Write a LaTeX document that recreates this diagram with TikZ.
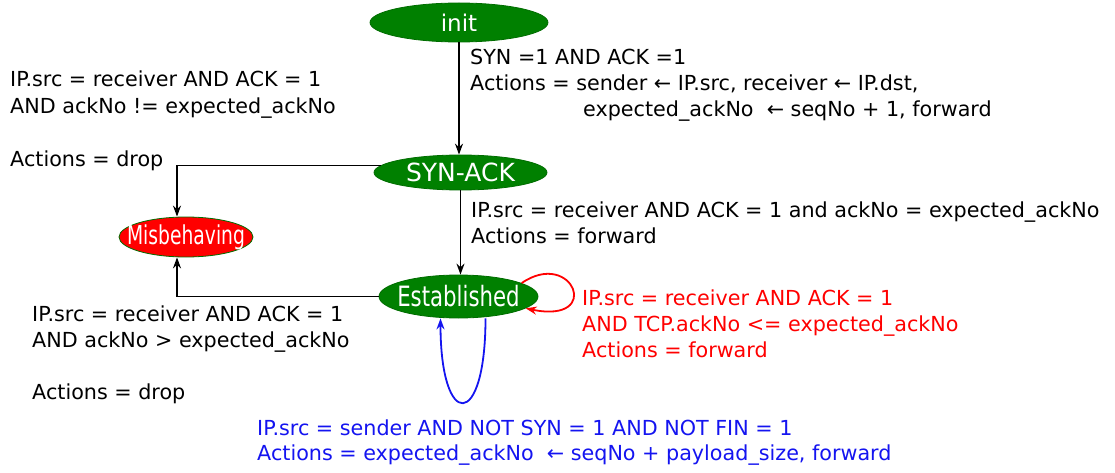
\documentclass[tikz,border=0pt]{standalone}
\usepackage{fontspec}
\usepackage{graphicx}
\setmainfont{DejaVu Sans}
\usetikzlibrary{shapes.geometric,arrows.meta}
\definecolor{stgreen}{RGB}{0,128,0}
\definecolor{stred}{RGB}{255,0,0}
\definecolor{stblue}{RGB}{20,20,240}
\begin{document}
\begin{tikzpicture}[x=1pt,y=1pt,
  state/.style={ellipse,fill=stgreen,draw=stgreen!85!black,line width=0.8pt,inner sep=0pt,text=white},
  lbl/.style={anchor=base west,inner sep=0pt,font=\fontsize{20.7}{26}\selectfont},
  conn/.style={-{Stealth[length=11pt,width=8pt]},line width=1.5pt},
]
\useasboundingbox (0,0) rectangle (1115,-473);
\node[state,minimum width=178pt,minimum height=39pt,font=\fontsize{23}{23}\selectfont] (init) at (459,-22.5) {\makebox[0pt]{init}};
\node[state,minimum width=173pt,minimum height=35pt,font=\fontsize{25}{25}\selectfont] (synack) at (460.5,-172.5) {\makebox[0pt]{SYN-ACK}};
\node[state,minimum width=159pt,minimum height=43pt,font=\fontsize{28}{28}\selectfont] (est) at (458.5,-296.5) {\makebox[0pt]{\scalebox{0.76}[1]{Established}}};
\node[state,fill=stred,minimum width=134pt,minimum height=40pt,font=\fontsize{26}{26}\selectfont] (misb) at (186,-237) {\makebox[0pt]{\scalebox{0.72}[1]{Misbehaving}}};

\draw[conn] (init.south) -- (init.south |- synack.north);
\draw[conn] (synack.south) -- (synack.south |- est.north);
\draw[conn] (synack.175) -| ([xshift=-9pt]misb.north);
\draw[conn] (est.west) -| ([xshift=-9pt]misb.south);
\draw[conn,stred,line width=1.8pt] (est.12) .. controls +(51,35) and +(78,-16) .. (est.-10);
\draw[conn,stblue,line width=1.8pt] ([xshift=27pt]est.south) .. controls +(0,-112) and +(0,-112) .. ([xshift=-18pt]est.south);

\node[lbl] (t1a) at (10,-87) {IP.src = receiver AND ACK = 1};
\node[lbl] (t1b) at (10,-114) {AND ackNo != expected\_ackNo};
\node[lbl] (t1c) at (10,-167) {Actions = drop};
\node[lbl] (t2a) at (470,-65) {SYN =1 AND ACK =1};
\node[lbl] (t2b) at (470,-91) {Actions = sender ← IP.src, receiver ← IP.dst,};
\node[lbl] (t2c) at (583,-117) {expected\_ackNo\ \ ← seqNo + 1, forward};
\node[lbl] (t3a) at (471,-217) {IP.src = receiver AND ACK = 1 and ackNo = expected\_ackNo};
\node[lbl] (t3b) at (471,-243) {Actions = forward};
\node[lbl] (t4a) at (32,-321) {IP.src = receiver AND ACK = 1};
\node[lbl] (t4b) at (32,-347) {AND ackNo > expected\_ackNo};
\node[lbl] (t4c) at (32,-399) {Actions = drop};
\node[lbl,text=stred] (t5a) at (582,-305) {IP.src = receiver AND ACK = 1};
\node[lbl,text=stred] (t5b) at (582,-331) {AND TCP.ackNo <= expected\_ackNo};
\node[lbl,text=stred] (t5c) at (582,-357) {Actions = forward};
\node[lbl,text=stblue] (t6a) at (257,-435) {IP.src = sender AND NOT SYN = 1 AND NOT FIN = 1};
\node[lbl,text=stblue] (t6b) at (257,-460) {Actions = expected\_ackNo\ \ ← seqNo + payload\_size, forward};
\end{tikzpicture}
\end{document}
